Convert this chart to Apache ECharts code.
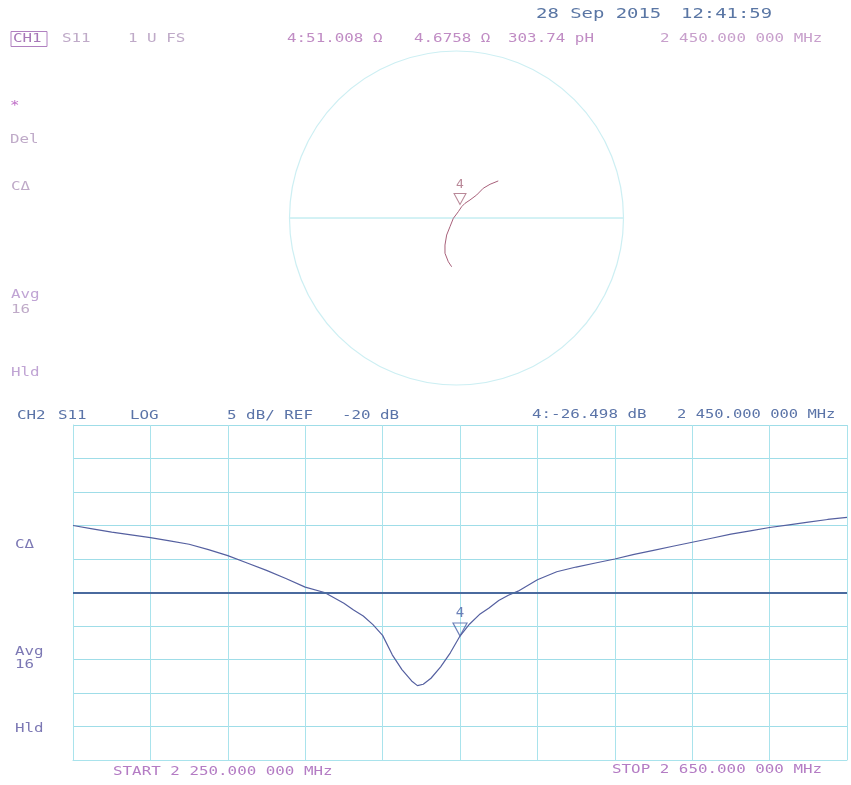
<!DOCTYPE html>
<html><head><meta charset="utf-8">
<script src="https://cdn.jsdelivr.net/npm/echarts@6/dist/echarts.min.js"></script>
<style>html,body{margin:0;padding:0;background:#fff}#c{width:851px;height:785px}</style>
</head><body><div id="c"></div>
<script>
// ---- CH2: S11 log magnitude (dB) vs frequency (MHz) ----
const startMHz = 2250;
const stopMHz = 2650;
const refDB = -20;
const dbPerDiv = 5;
const freqMHz = [2250,2260,2270,2280,2290,2300,2310,2320,2330,2340,2350,2360,2370,2380,2390,2395,2400,2405,2410,2415,2420,2425,2428,2431,2435,2440,2445,2450,2455,2460,2465,2470,2475,2480,2490,2500,2510,2520,2530,2540,2550,2560,2570,2580,2590,2600,2610,2620,2630,2640,2650];
const s11dB = [-10.0,-10.5,-11.0,-11.4,-11.8,-12.3,-12.8,-13.6,-14.5,-15.6,-16.7,-17.9,-19.2,-20.0,-21.6,-22.6,-23.5,-24.8,-26.4,-29.3,-31.5,-33.2,-33.9,-33.7,-32.8,-31.1,-29.0,-26.5,-24.7,-23.3,-22.3,-21.2,-20.4,-19.8,-18.1,-16.9,-16.2,-15.6,-15.0,-14.3,-13.7,-13.1,-12.5,-11.9,-11.3,-10.8,-10.3,-9.9,-9.5,-9.1,-8.8];
const markerFreq = 2450;
const markerDB = -26.498;

// ---- CH1: S11 Smith chart trace (reflection coefficient, real / imaginary) ----
const smithRe = [0.250,0.201,0.160,0.121,0.081,0.051,0.031,0.011,-0.019,-0.039,-0.059,-0.069,-0.069,-0.049,-0.029];
const smithIm = [0.222,0.202,0.178,0.138,0.108,0.088,0.068,0.038,-0.002,-0.052,-0.102,-0.162,-0.211,-0.262,-0.292];
const smithMarker = [0.021, 0.078];

// ---- texts ----
const headerDate = '28 Sep 2015';
const headerTime = '12:41:59';
const ch1Texts = ['CH1','S11','1 U FS','4:51.008 Ω','4.6758 Ω','303.74 pH','2 450.000 000 MHz'];
const ch2Texts = ['CH2','S11','LOG','5 dB/ REF','-20','dB','4:-26.498 dB','2 450.000 000 MHz'];
const startLabel = 'START 2 250.000 000 MHz';
const stopLabel = 'STOP 2 650.000 000 MHz';

function toPolar(re, im){
  let a = Math.atan2(im, re) * 180 / Math.PI;
  if (a < 0) a += 360;
  return [Math.hypot(re, im), a];
}
const smithData = smithRe.map((re,i)=>toPolar(re, smithIm[i]));
const lowerData = freqMHz.map((f,i)=>[f - startMHz, s11dB[i]]);

const FONT = 'DejaVu Sans Mono';
function t(text, x, y, color, size, sx){
  return {type:'text', x:x, y:y, scaleX: sx || 1.22, silent:true,
    style:{text:text, fill:color, font: (size||13)+'px "'+FONT+'"', verticalAlign:'middle', align:'left'}};
}
const cUp = '#c08cc4', cUpLight = '#bfaac8', cLow = '#5b74a8', cLowLbl = '#7c78b4', cPurple = '#b47cc4';

const graphics = [
  t(headerDate, 536, 14, '#5a76a4', 14, 1.35),
  t(headerTime, 681, 14, '#5a76a4', 14, 1.35),
  {type:'rect', shape:{x:11, y:31.5, width:36, height:15}, style:{fill:'none', stroke:'#b080c0', lineWidth:1}, silent:true},
  t(ch1Texts[0], 13, 39, '#a878b8'),
  t(ch1Texts[1], 62, 39, cUpLight),
  t(ch1Texts[2], 128, 39, cUpLight),
  t(ch1Texts[3], 287, 39, cUp),
  t(ch1Texts[4], 414, 39, cUp),
  t(ch1Texts[5], 508, 39, cUp),
  t(ch1Texts[6], 660, 39, '#c8a0cc'),
  t('*', 10, 106, '#c070c8'),
  t('Del', 10, 140, cUpLight),
  t('CΔ', 11, 187, cUpLight),
  t('Avg', 11, 295, '#c0a4d4'),
  t('16', 11, 310, cUpLight),
  t('Hld', 11, 373, '#c0a4d4'),
  t(ch2Texts[0], 17, 416, cLow),
  t(ch2Texts[1], 58, 416, cLow),
  t(ch2Texts[2], 130, 416, cLow),
  t(ch2Texts[3], 227, 416, cLow),
  t(ch2Texts[4], 342, 416, cLow),
  t(ch2Texts[5], 380, 416, cLow),
  t(ch2Texts[6], 532, 415, cLow),
  t(ch2Texts[7], 677, 415, cLow, 13, 1.19),
  t('CΔ', 15, 545, cLowLbl),
  t('Avg', 15, 652, cLowLbl),
  t('16', 15, 665, cLowLbl),
  t('Hld', 15, 729, cLowLbl),
  t(startLabel, 113, 772, cPurple),
  t(stopLabel, 612, 770, cPurple)
];

const gridColor = '#a9e3ec';
const chart = echarts.init(document.getElementById('c'), null, {renderer:'canvas'});
chart.setOption({
  backgroundColor:'#ffffff',
  animation:false,
  polar:{center:[456.5, 218], radius:167},
  angleAxis:{type:'value', min:0, max:360, interval:180, startAngle:0, clockwise:false,
    axisLine:{show:true, lineStyle:{color:'#cdeff3', width:1.2}},
    axisTick:{show:false}, axisLabel:{show:false},
    splitLine:{show:true, lineStyle:{color:'#a8e4ea', width:1}}},
  radiusAxis:{type:'value', min:0, max:1, axisLine:{show:false}, axisTick:{show:false}, axisLabel:{show:false}, splitLine:{show:false}},
  grid:{left:73, top:425, width:774, height:335, show:false},
  xAxis:{type:'value', min:0, max:stopMHz - startMHz, interval:(stopMHz - startMHz)/10,
    axisLine:{show:true, onZero:false, lineStyle:{color:gridColor}}, axisTick:{show:false}, axisLabel:{show:false},
    splitLine:{show:true, lineStyle:{color:[gridColor], width:1}}},
  yAxis:{type:'value', min:refDB - 5*dbPerDiv, max:refDB + 5*dbPerDiv, interval:dbPerDiv,
    axisLine:{show:true, onZero:false, lineStyle:{color:gridColor}}, axisTick:{show:false}, axisLabel:{show:false},
    splitLine:{show:true, lineStyle:{color:['#9fdde8'], width:1}}},
  graphic: graphics,
  series:[
    {type:'line', coordinateSystem:'polar', data:smithData, showSymbol:false, silent:true,
      lineStyle:{color:'#a8607a', width:1}},
    {type:'scatter', coordinateSystem:'polar', data:[toPolar(smithMarker[0], smithMarker[1])], silent:true,
      symbol:'triangle', symbolRotate:180, symbolSize:[12,11], symbolOffset:[0,-6],
      itemStyle:{color:'rgba(255,255,255,0)', borderColor:'#a86a7e', borderWidth:1},
      label:{show:true, formatter:'4', position:'top', distance:2, color:'#a86a7e', fontFamily:FONT, fontSize:13}},
    {type:'line', data:lowerData, showSymbol:false, silent:true,
      lineStyle:{color:'#5560a0', width:1.2},
      markLine:{silent:true, symbol:['none','none'], label:{show:false},
        lineStyle:{color:'#4a6a9e', width:1.8, type:'solid'}, data:[{yAxis:refDB}]}},
    {type:'scatter', data:[[markerFreq - startMHz, markerDB]], silent:true,
      symbol:'triangle', symbolRotate:180, symbolSize:[14,13], symbolOffset:[0,-6.5],
      itemStyle:{color:'rgba(255,255,255,0)', borderColor:'#4a62a8', borderWidth:1.2},
      label:{show:true, formatter:'4', position:'top', distance:2, color:'#4a62a8', fontFamily:FONT, fontSize:14}}
  ]
});
</script>
</body></html>
